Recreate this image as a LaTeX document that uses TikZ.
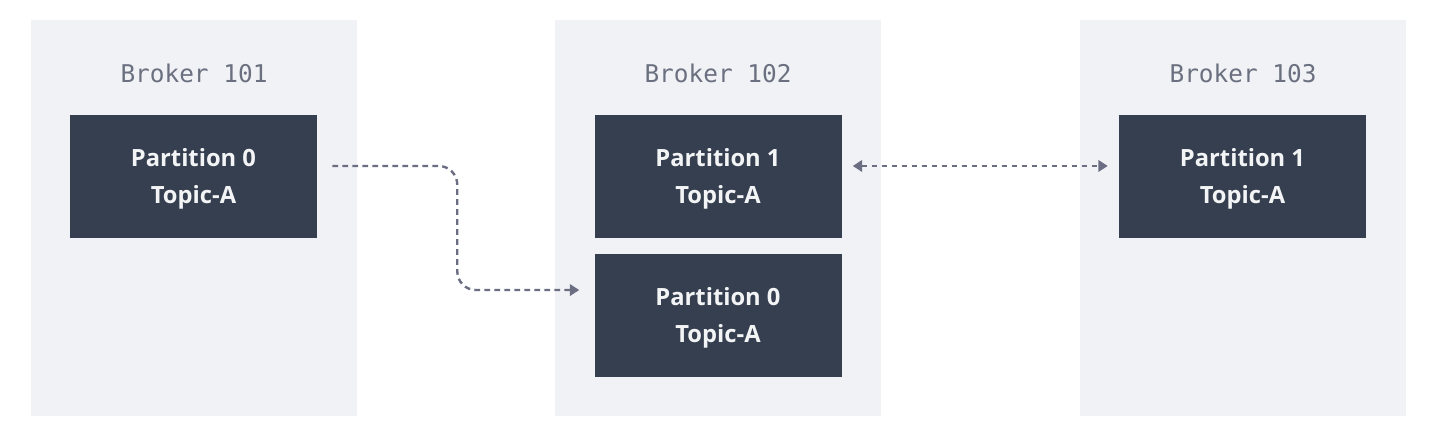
\documentclass[tikz,border=0pt]{standalone}
\usepackage{fontspec}
\setmainfont{Open Sans}
\setmonofont{DejaVu Sans Mono}
\usetikzlibrary{arrows.meta}
\definecolor{panelbg}{HTML}{F1F2F5}
\definecolor{boxbg}{HTML}{363F4F}
\definecolor{boxtext}{HTML}{F3F4F6}
\definecolor{labeltext}{HTML}{6B7080}
\definecolor{arrowc}{HTML}{6B6E82}
\tikzset{
  panel/.style={fill=panelbg, draw=none, minimum width=244.5pt, minimum height=297pt, inner sep=0pt},
  part/.style={fill=boxbg, draw=none, minimum width=185.25pt, minimum height=92.25pt, inner sep=0pt,
    text=boxtext, font=\fontsize{17.8}{27.75}\selectfont\bfseries, align=center},
  parttext/.style={text=boxtext, font=\fontsize{17.8}{27.75}\selectfont\bfseries, align=center, inner sep=0pt},
  brokerlabel/.style={text=labeltext, font=\fontsize{18.3}{20}\selectfont\ttfamily, inner sep=0pt},
  conn/.style={draw=arrowc, line width=1.8pt, dash pattern=on 4.3pt off 3.2pt,
    -{Triangle[length=7pt,width=8.5pt]}},
  conn2/.style={draw=arrowc, line width=1.8pt, dash pattern=on 4.3pt off 3.2pt,
    {Triangle[length=7pt,width=8.5pt]}-{Triangle[length=7pt,width=8.5pt]}}
}
\begin{document}
\begin{tikzpicture}[x=0.75pt,y=-0.75pt]
\useasboundingbox[fill=white] (0,0) rectangle (1432,444);
% panels
\node[panel] (b1) at (194,218) {};
\node[panel] (b2) at (718,218) {};
\node[panel] (b3) at (1243,218) {};
% labels
\node[brokerlabel] (l1) at (194,73) {Broker 101};
\node[brokerlabel] (l2) at (718,73) {Broker 102};
\node[brokerlabel] (l3) at (1243,73) {Broker 103};
% partitions
\node[part] (p10) at (193.5,176.5) {};
\node[part] (p21) at (718,176.5) {};
\node[part] (p20) at (718,315.5) {};
\node[part] (p31) at (1242.5,176.5) {};
\node[parttext] (t10) at (193.5,178.5) {Partition 0\\Topic-A};
\node[parttext] (t21) at (718,178.5) {Partition 1\\Topic-A};
\node[parttext] (t20) at (718,317.5) {Partition 0\\Topic-A};
\node[parttext] (t31) at (1242.5,178.5) {Partition 1\\Topic-A};
% connectors
\draw[conn, rounded corners=14pt, shorten <=11.25pt, shorten >=11.25pt]
  ([yshift=7.9pt]p10.east) -- ++(140,0) |- ([yshift=19.1pt]p20.west);
\draw[conn2, shorten <=8.25pt, shorten >=8.25pt]
  ([yshift=7.9pt]p21.east) -- ([yshift=7.9pt]p31.west);
\end{tikzpicture}
\end{document}
